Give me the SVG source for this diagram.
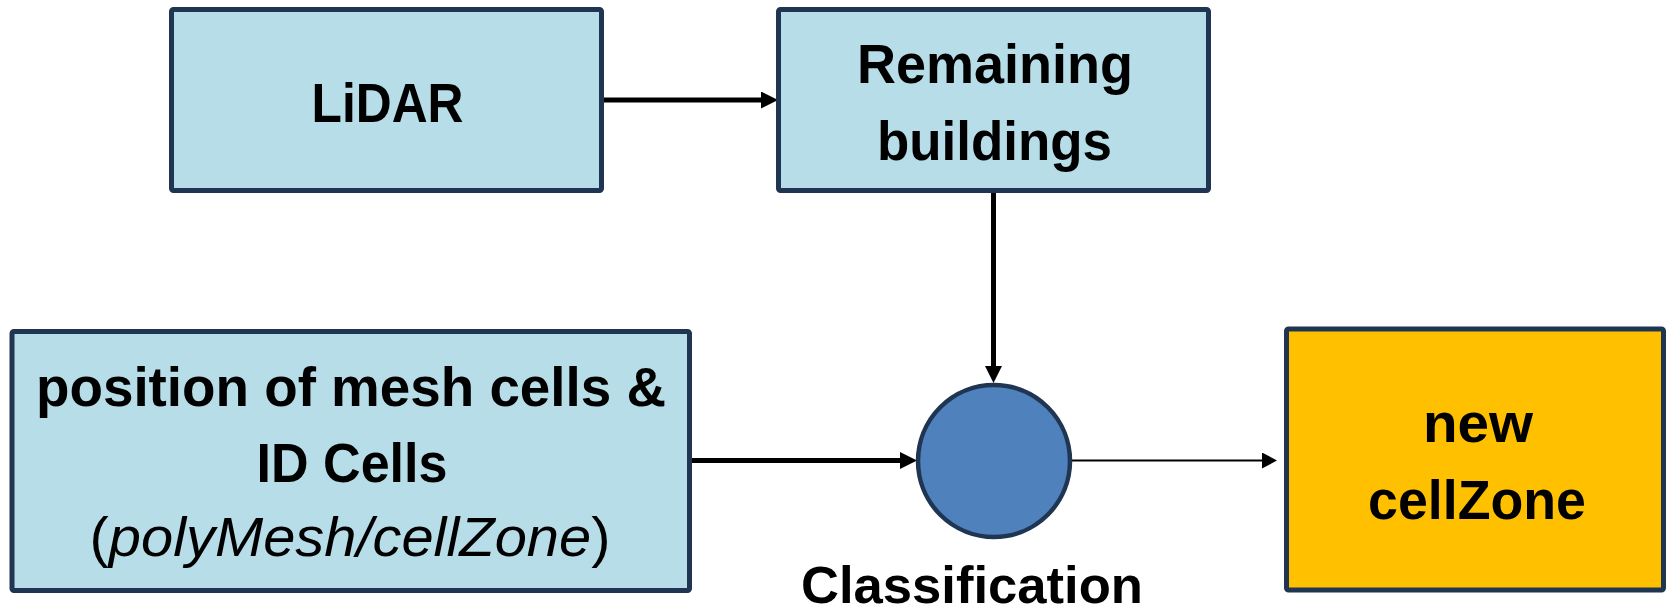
<svg xmlns="http://www.w3.org/2000/svg" width="1668" height="614" viewBox="0 0 1668 614">
<defs>
<style>
.box{fill:#B7DDE8;stroke:#1F3552;stroke-width:5;stroke-linejoin:round}
.out{fill:#FFC000;stroke:#1F3552;stroke-width:5;stroke-linejoin:round}
.circ{fill:#4F81BD;stroke:#1F3552;stroke-width:4.5}
.t{font-family:"Liberation Sans",Arial,sans-serif;font-weight:bold;font-size:55px;fill:#000;text-anchor:middle}
.it{font-family:"Liberation Sans",Arial,sans-serif;font-size:55px;fill:#000;text-anchor:middle}
.c{fill:none;stroke:#000;stroke-width:5}
.cthin{fill:none;stroke:#000;stroke-width:2}
</style>
<marker id="ah" markerUnits="userSpaceOnUse" markerWidth="17" markerHeight="17" refX="0" refY="8.5" orient="auto">
<path d="M0,0 L17,8.5 L0,17 z" fill="#000"/>
</marker>
<marker id="ahs" markerUnits="userSpaceOnUse" markerWidth="15" markerHeight="16" refX="0" refY="8" orient="auto">
<path d="M0,0 L15,8 L0,16 z" fill="#000"/>
</marker>
</defs>
<g id="connectors">
<path class="c" d="M603,100 L761,100" marker-end="url(#ah)"/>
<path class="c" d="M993.5,192 L993.5,366" marker-end="url(#ah)"/>
<path class="c" d="M692,460.5 L900,460.5" marker-end="url(#ah)"/>
<path class="cthin" d="M1071,460.5 L1262,460.5" marker-end="url(#ahs)"/>
</g>
<g id="lidar">
<rect class="box" x="171.5" y="9.5" width="430" height="181" rx="2"/>
<text class="t" x="387.5" y="122" textLength="152" lengthAdjust="spacingAndGlyphs">LiDAR</text>
</g>
<g id="remaining">
<rect class="box" x="778.5" y="9.5" width="430" height="181" rx="2"/>
<text class="t" x="995" y="83" textLength="276" lengthAdjust="spacingAndGlyphs">Remaining</text>
<text class="t" x="994.5" y="160" textLength="235" lengthAdjust="spacingAndGlyphs">buildings</text>
</g>
<g id="position">
<rect class="box" x="12" y="331.5" width="677.5" height="259" rx="2"/>
<text class="t" x="351" y="406" textLength="630" lengthAdjust="spacingAndGlyphs">position of mesh cells &amp;</text>
<text class="t" x="352" y="482" textLength="191" lengthAdjust="spacingAndGlyphs">ID Cells</text>
<text class="it" x="350" y="556" textLength="521" lengthAdjust="spacingAndGlyphs">(<tspan font-style="italic">polyMesh/cellZone</tspan>)</text>
</g>
<g id="classification">
<circle class="circ" cx="994" cy="461" r="76"/>
<text class="t" x="972" y="603" font-size="52" style="font-size:52px" textLength="342" lengthAdjust="spacingAndGlyphs">Classification</text>
</g>
<g id="newcellzone">
<rect class="out" x="1286.5" y="329" width="377" height="261" rx="2"/>
<text class="t" x="1478" y="442" textLength="110" lengthAdjust="spacingAndGlyphs">new</text>
<text class="t" x="1477" y="519" textLength="218" lengthAdjust="spacingAndGlyphs">cellZone</text>
</g>
</svg>
